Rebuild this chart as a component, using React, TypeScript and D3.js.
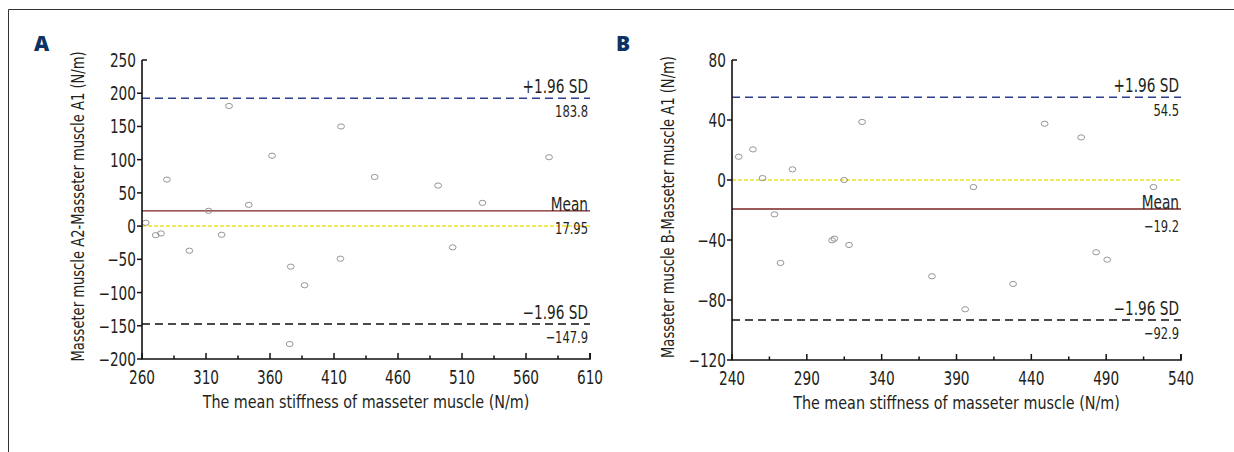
import { useEffect, useRef } from "react"
import * as d3 from "d3"

// Panel A: mean stiffness vs difference (A2 - A1)
const meanA = [262.9, 270.7, 274.8, 279.5, 297, 312, 322.2, 328, 343.4, 361.6, 376.2, 375.4, 387, 415.5, 415, 441.8, 491.3, 502.7, 526, 578]
const diffA = [5, -13.6, -11, 70, -37, 23, -13, 180.8, 32, 106, -61, -177.5, -89, 150, -49, 74, 61, -32, 35, 103.7]

// Panel B: mean stiffness vs difference (B - A1)
const meanB = [244.5, 254, 260.4, 268.4, 272.4, 280.4, 306.9, 308.4, 314.9, 318.2, 326.9, 373.6, 395.8, 401.3, 427.8, 448.9, 473.3, 483.3, 490.7, 521.6]
const diffB = [15.5, 20.4, 1.3, -22.9, -55.3, 7.1, -40.2, -39.1, 0, -43.3, 38.7, -64.2, -86.2, -4.7, -69.3, 37.5, 28.4, -48.2, -53.1, -4.7]

// reference lines as drawn: upper limit, mean, lower limit
const linesA = [192.4, 23, -147.3]
const linesB = [55.1, -19.3, -93.3]
const lineNames = ["+1.96 SD", "Mean", "\u22121.96 SD"]
const lineValuesA = ["183.8", "17.95", "\u2212147.9"]
const lineValuesB = ["54.5", "\u221219.2", "\u221292.9"]

const xTicksA = [260, 310, 360, 410, 460, 510, 560, 610]
const yTicksA = [250, 200, 150, 100, 50, 0, -50, -100, -150, -200]
const xTicksB = [240, 290, 340, 390, 440, 490, 540]
const yTicksB = [80, 40, 0, -40, -80, -120]

const FONT = "'DejaVu Sans Condensed', 'Liberation Sans', sans-serif"
const TEXT = "#231f20"
const SX = 0.8 // squeeze glyphs, the original uses a condensed face

// text placed through a transform so it can be narrowed
function narrowText(sel, x, y, size, sx = SX, rot = 0) {
    return sel.append('text')
        .attr('transform', `translate(${x},${y})rotate(${rot})scale(${sx},1)`)
        .attr('font-size', size)
}

function drawPanel(svg, {
    left, right, top, bottom, letterX,
    xTicks, yTicks, xs, ys, lines, values, letter, yTitle,
}) {
    const x = d3.scaleLinear().domain([xTicks[0], xTicks[xTicks.length - 1]]).range([left, right])
    const y = d3.scaleLinear().domain([yTicks[yTicks.length - 1], yTicks[0]]).range([bottom, top])
    const g = svg.append('g').attr('font-family', FONT).attr('fill', TEXT)

    // panel letter
    g.append('text')
        .attr('x', letterX)
        .attr('y', 51)
        .attr('font-family', "'Open Sans', 'DejaVu Sans', sans-serif")
        .attr('font-weight', 800)
        .attr('font-size', 21)
        .attr('fill', '#0d3264')
        .text(letter)

    // zero line (yellow dotted)
    g.append('line')
        .attr('x1', left).attr('x2', right)
        .attr('y1', y(0)).attr('y2', y(0))
        .attr('stroke', '#eae22a').attr('stroke-width', 1.5)
        .attr('stroke-dasharray', '4,2')

    const lineColors = ['#2e3f8e', '#7a2222', '#111']
    lines.forEach((v, i) => {
        g.append('line')
            .attr('x1', left).attr('x2', right)
            .attr('y1', y(v)).attr('y2', y(v))
            .attr('stroke', lineColors[i]).attr('stroke-width', i === 1 ? 1.4 : 1.5)
            .attr('stroke-dasharray', i === 1 ? null : '8,5')
    })

    // labels for lines
    const labelG = g.append('g').attr('text-anchor', 'end')
    lines.forEach((v, i) => {
        narrowText(labelG, right - 2, y(v) - (i === 1 ? 0 : 5), 19).text(lineNames[i])
        narrowText(labelG, right - 2, y(v) + (i === 1 ? 23 : 19), 16).text(values[i])
    })

    // points
    g.append('g')
        .selectAll('ellipse')
        .data(xs.map((d, i) => [d, ys[i]]))
        .join('ellipse')
            .attr('cx', d => x(d[0]))
            .attr('cy', d => y(d[1]))
            .attr('rx', 3.4)
            .attr('ry', 2.6)
            .attr('fill', 'none')
            .attr('stroke', '#8a8a8a')
            .attr('stroke-width', 0.9)

    // x axis
    const step = xTicks[1] - xTicks[0]
    const minor = d3.range(xTicks[0], xTicks[xTicks.length - 1] + 0.1, step / 2)
    g.append('g')
        .selectAll('line')
        .data(minor)
        .join('line')
            .attr('x1', d => x(d)).attr('x2', d => x(d))
            .attr('y1', bottom)
            .attr('y2', (d, i) => bottom - (i % 2 === 0 ? 6 : 3.5))
            .attr('stroke', '#111').attr('stroke-width', 1.5)
    const xl = g.append('g').attr('text-anchor', 'middle')
    xTicks.forEach(d => narrowText(xl, x(d), bottom + 25, 19).text(d))

    // y axis
    g.append('g')
        .selectAll('line')
        .data(yTicks)
        .join('line')
            .attr('x1', (d, i) => i === 0 ? left + 5 : left - 5)
            .attr('x2', left)
            .attr('y1', d => y(d)).attr('y2', d => y(d))
            .attr('stroke', '#111').attr('stroke-width', 1.5)
    const yl = g.append('g').attr('text-anchor', 'end')
    yTicks.forEach(d => narrowText(yl, left - 6, y(d) + 7, 19).text(d < 0 ? '\u2212' + Math.abs(d) : d))

    g.append('path')
        .attr('d', `M${left},${top}V${bottom}H${right}V${bottom - 6}`)
        .attr('fill', 'none')
        .attr('stroke', '#111')
        .attr('stroke-width', 1.6)

    // axis titles
    const tg = g.append('g').attr('text-anchor', 'middle')
    narrowText(tg, (left + right) / 2, bottom + 49, 18, 0.885)
        .text('The mean stiffness of masseter muscle (N/m)')
    narrowText(tg, left - 58, (top + bottom) / 2 - 3, 18, 0.81, -90)
        .text(yTitle)
}

export default function App() {
    const ref = useRef(null)

    useEffect(() => {
        const svg = d3.select(ref.current)
        svg.selectAll('*').remove()

        // frame
        svg.append('path')
            .attr('d', 'M8.5,452V9.5H1234')
            .attr('fill', 'none')
            .attr('stroke', '#333')
            .attr('stroke-width', 1)

        drawPanel(svg, {
            left: 142, right: 590, top: 60, bottom: 359, letterX: 34,
            xTicks: xTicksA, yTicks: yTicksA, xs: meanA, ys: diffA,
            lines: linesA, values: lineValuesA, letter: 'A',
            yTitle: 'Masseter muscle A2-Masseter muscle A1 (N/m)',
        })
        drawPanel(svg, {
            left: 732, right: 1181, top: 60, bottom: 360, letterX: 616,
            xTicks: xTicksB, yTicks: yTicksB, xs: meanB, ys: diffB,
            lines: linesB, values: lineValuesB, letter: 'B',
            yTitle: 'Masseter muscle B-Masseter muscle A1 (N/m)',
        })
    }, [])

    return (
        <svg ref={ref} width={1234} height={452}
            style={{ position: 'absolute', left: 0, top: 0, background: '#fff' }} />
    )
}
